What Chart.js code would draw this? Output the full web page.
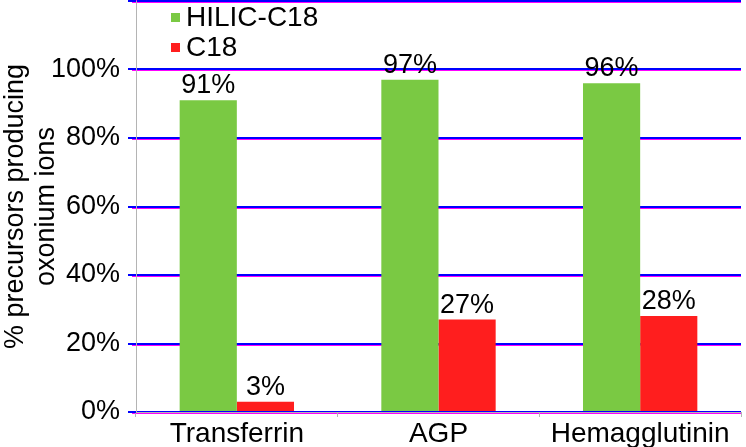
<!DOCTYPE html>
<html>
<head>
<meta charset="utf-8">
<script src="https://cdn.jsdelivr.net/npm/chart.js@4"></script>
<style>
  html, body { margin: 0; padding: 0; background: #fff; }
  #wrap { width: 746px; height: 447px; }
</style>
</head>
<body>
<div id="wrap"><canvas id="chart"></canvas></div>
<script>
// chart data
var categories = ["Transferrin", "AGP", "Hemagglutinin"];
var series_names = ["HILIC-C18", "C18"];
var hilic_values = [91, 97, 96];
var c18_values = [3, 27, 28];
var y_max = 120;
var y_step = 20;

var green = "#7AC943";
var red = "#FF1E1E";
var line_gray = "#B4B4B4";
var font_name = "'Liberation Sans', Arial, sans-serif";

/******************************************************************************
* Writes the percentage above each bar, plus grid lines (debug colours).
******************************************************************************/
var bar_labels = {
    id: "bar_labels",
    afterDatasetsDraw: function(chart) {
        var ctx = chart.ctx;
        var area = chart.chartArea;
        var scale = chart.scales.y;
        ctx.save();
        ctx.globalCompositeOperation = "destination-over";
        ctx.fillStyle = "#FF00FF";
        for (var v = 0; v <= y_max; v += y_step) {
            var py = Math.round(scale.getPixelForValue(v));
            ctx.fillRect(area.left - 4, py - 1, area.right - area.left + 4, 3);
        }
        ctx.restore();

        ctx.save();
        ctx.fillStyle = "#000";
        ctx.font = "27px " + font_name;
        ctx.textAlign = "center";
        ctx.textBaseline = "alphabetic";
        chart.data.datasets.forEach(function(ds, i) {
            var meta = chart.getDatasetMeta(i);
            meta.data.forEach(function(bar, j) {
                ctx.fillText(ds.data[j] + "%", bar.x, bar.y - 7);
            });
        });
        ctx.restore();
    }
};

/******************************************************************************
* Small legend in the top left corner of the plot.
******************************************************************************/
var corner_legend = {
    id: "corner_legend",
    afterDraw: function(chart) {
        var ctx = chart.ctx;
        var x = chart.chartArea.left + 35;
        var y = 17;
        ctx.save();
        ctx.font = "28px " + font_name;
        ctx.textBaseline = "middle";
        chart.data.datasets.forEach(function(ds) {
            ctx.fillStyle = ds.backgroundColor;
            ctx.fillRect(x, y - 4, 9, 9);
            ctx.fillStyle = "#000";
            ctx.fillText(ds.label, x + 15, y + 1);
            y += 30;
        });
        ctx.restore();
    }
};

var ctx = document.getElementById("chart").getContext("2d");
var chart = new Chart(ctx, {
    type: "bar",
    data: {
        labels: categories,
        datasets: [
            { label: series_names[0], data: hilic_values, backgroundColor: green },
            { label: series_names[1], data: c18_values, backgroundColor: red }
        ]
    },
    options: {
        responsive: true,
        maintainAspectRatio: false,
        animation: false,
        layout: { padding: { top: 1, right: 5, left: 0, bottom: 0 } },
        datasets: {
            bar: { categoryPercentage: 0.567, barPercentage: 1.0 }
        },
        plugins: {
            legend: { display: false },
            tooltip: { enabled: false }
        },
        scales: {
            x: {
                grid: {
                    offset: true,
                    drawOnChartArea: false,
                    color: line_gray,
                    tickLength: 5
                },
                border: { color: line_gray },
                ticks: {
                    color: "#000",
                    font: { family: font_name, size: 28 },
                    padding: 0
                },
                afterFit: function(scale) { scale.height = 35; }
            },
            y: {
                min: 0,
                max: y_max,
                ticks: {
                    stepSize: y_step,
                    color: "#000",
                    font: { family: font_name, size: 27 },
                    padding: 8,
                    callback: function(v) { return v > 100 ? "" : v + "%"; }
                },
                grid: { color: "#0000FF", lineWidth: 2 },
                border: { color: line_gray },
                title: {
                    display: true,
                    text: ["% precursors producing", "oxonium ions"],
                    color: "#000",
                    font: { family: font_name, size: 27, lineHeight: 1.15 },
                    padding: { top: 0, bottom: 0 }
                },
                afterFit: function(scale) {
                    scale.width = 136;
                    scale.paddingTop = 0;
                    scale.paddingBottom = 0;
                }
            }
        }
    },
    plugins: [bar_labels, corner_legend]
});
</script>
</body>
</html>
